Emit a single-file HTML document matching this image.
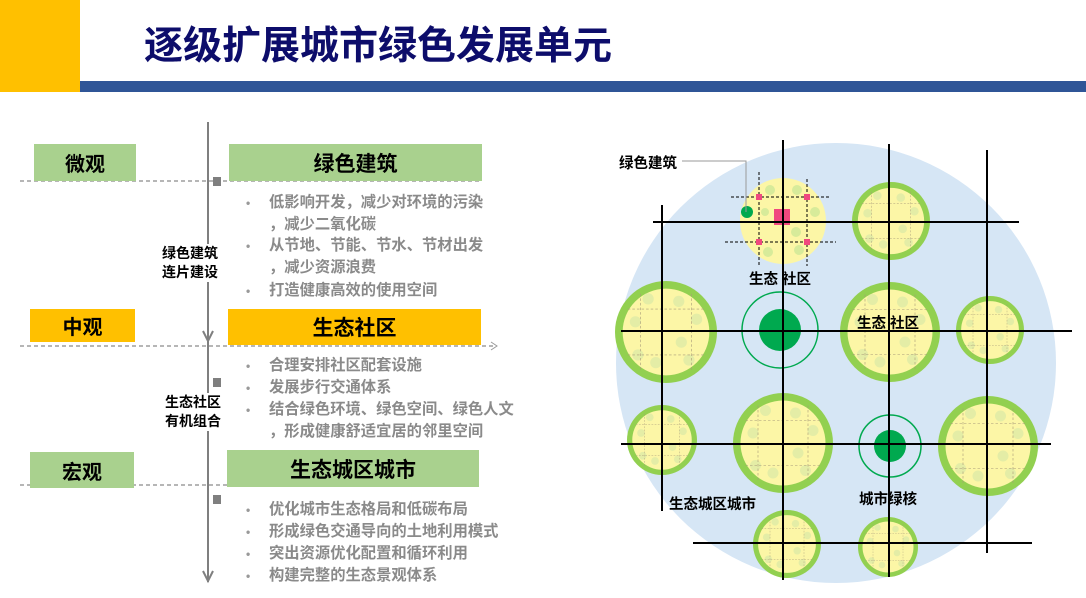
<!DOCTYPE html>
<html><head><meta charset="utf-8"><style>
body{margin:0;width:1086px;height:598px;overflow:hidden;background:#fff;position:relative;font-family:"Liberation Sans","Noto Sans CJK SC",sans-serif}
.a{position:absolute}
.box{position:absolute;display:flex;align-items:center;justify-content:center;font-weight:bold;font-size:20px;color:#000}
.g{background:#a9d18e}.y{background:#ffc000}
.t{position:absolute;font-size:15.3px;color:#8a8a8a;font-weight:bold;white-space:nowrap;line-height:22px}
.t span{position:absolute;left:-23px;color:#999;font-size:12px}
.lab{position:absolute;font-size:14px;font-weight:bold;text-align:center;background:#fff;line-height:19px;width:62px}
</style></head><body>
<div class="a" style="left:0;top:0;width:80px;height:92px;background:#ffc000"></div>
<div class="a" style="left:80px;top:81px;width:1006px;height:11px;background:#2f5597"></div>
<div class="a" style="left:144px;top:15px;font-size:39px;font-weight:bold;color:#0d0d6b">逐级扩展城市绿色发展单元</div>

<svg class="a" style="left:0;top:0" width="600" height="598">
<g stroke="#8a8a8a" stroke-width="1.2" stroke-dasharray="4,3" fill="none">
<line x1="20" y1="181" x2="482" y2="181"/>
<line x1="20" y1="346" x2="496" y2="346"/>
<line x1="20" y1="485" x2="228" y2="485"/>
</g>
<polyline points="491,342 497,346 491,350" fill="none" stroke="#999" stroke-width="1"/>
<line x1="208" y1="122" x2="208" y2="582" stroke="#7f7f7f" stroke-width="2"/>
<polyline points="203,331 208,341 213,331" fill="none" stroke="#7f7f7f" stroke-width="2"/>
<polyline points="203,571 208,581 213,571" fill="none" stroke="#7f7f7f" stroke-width="2"/>
<rect x="213" y="177" width="8" height="9" fill="#7f7f7f"/>
<rect x="213" y="378" width="8" height="9" fill="#7f7f7f"/>
<rect x="213" y="495" width="8" height="9" fill="#7f7f7f"/>
</svg>

<div class="box g" style="left:34px;top:144px;width:102px;height:37px">微观</div>
<div class="box g" style="left:229px;top:144px;width:253px;height:37px;font-size:21px">绿色建筑</div>
<div class="box y" style="left:30px;top:309px;width:105px;height:33px">中观</div>
<div class="box y" style="left:228px;top:309px;width:253px;height:36px;font-size:21px">生态社区</div>
<div class="box g" style="left:30px;top:452px;width:104px;height:36px">宏观</div>
<div class="box g" style="left:227px;top:450px;width:252px;height:37px;font-size:21px">生态城区城市</div>

<div class="lab" style="left:159px;top:244px">绿色建筑<br>连片建设</div>
<div class="lab" style="left:162px;top:393px">生态社区<br>有机组合</div>

<div class="t" style="left:269px;top:192px"><span>•</span>低影响开发，减少对环境的污染</div>
<div class="t" style="left:269px;top:214px">，减少二氧化碳</div>
<div class="t" style="left:269px;top:235px"><span>•</span>从节地、节能、节水、节材出发</div>
<div class="t" style="left:269px;top:257px">，减少资源浪费</div>
<div class="t" style="left:269px;top:280px"><span>•</span>打造健康高效的使用空间</div>
<div class="t" style="left:269px;top:355px"><span>•</span>合理安排社区配套设施</div>
<div class="t" style="left:269px;top:377px"><span>•</span>发展步行交通体系</div>
<div class="t" style="left:269px;top:399px"><span>•</span>结合绿色环境、绿色空间、绿色人文</div>
<div class="t" style="left:269px;top:421px">，形成健康舒适宜居的邻里空间</div>
<div class="t" style="left:269px;top:499px"><span>•</span>优化城市生态格局和低碳布局</div>
<div class="t" style="left:269px;top:521px"><span>•</span>形成绿色交通导向的土地利用模式</div>
<div class="t" style="left:269px;top:543px"><span>•</span>突出资源优化配置和循环利用</div>
<div class="t" style="left:269px;top:565px"><span>•</span>构建完整的生态景观体系</div>

<svg class="a" style="left:0;top:0" width="1086" height="598">
<defs>
<symbol id="c" viewBox="-1 -1 2 2">
<circle r="1" fill="#92d050"/>
<circle r="0.85" fill="#fcf6a6"/>
<g fill="#e4eda6">
<circle cx="-0.35" cy="-0.65" r="0.11"/><circle cx="0.25" cy="-0.6" r="0.11"/>
<circle cx="-0.6" cy="-0.2" r="0.11"/><circle cx="0.6" cy="-0.25" r="0.11"/>
<circle cx="0.3" cy="0.2" r="0.11"/><circle cx="-0.55" cy="0.45" r="0.11"/>
<circle cx="0.45" cy="0.55" r="0.11"/><circle cx="-0.2" cy="0.6" r="0.11"/>
</g>
<g stroke="#a89a7a" stroke-width="0.012" stroke-dasharray="0.05,0.04">
<line x1="-0.5" y1="-0.75" x2="-0.5" y2="0.75"/><line x1="0.5" y1="-0.75" x2="0.5" y2="0.75"/>
<line x1="-0.75" y1="-0.45" x2="0.75" y2="-0.45"/><line x1="-0.75" y1="0.45" x2="0.75" y2="0.45"/>
</g>
</symbol>
</defs>
<circle cx="836" cy="363" r="220" fill="#d6e6f5"/>
<circle cx="783" cy="221" r="43" fill="#fcf6a6"/>
<g fill="#d7eb9a">
<circle cx="770" cy="190" r="5"/><circle cx="797" cy="190" r="5"/><circle cx="765" cy="212" r="4"/><circle cx="815" cy="212" r="5"/>
<circle cx="796" cy="232" r="5"/><circle cx="768" cy="252" r="5"/><circle cx="799" cy="250" r="5"/>
</g>
<g stroke="#000" stroke-width="1" stroke-dasharray="3,2">
<line x1="759" y1="172" x2="759" y2="266"/><line x1="807" y1="179" x2="807" y2="266"/>
<line x1="731" y1="197" x2="830" y2="197"/><line x1="725" y1="242" x2="836" y2="242"/>
</g>
<g fill="#f0487f">
<rect x="756" y="194" width="6" height="6"/><rect x="804" y="194" width="6" height="6"/>
<rect x="756" y="239" width="6" height="6"/><rect x="804" y="239" width="6" height="6"/>
<rect x="774" y="209" width="16" height="16"/>
</g>
<circle cx="747" cy="212" r="6" fill="#00a94f"/>
<polyline points="682,161 746,161 746,212" fill="none" stroke="#999" stroke-width="1"/>

<use href="#c" x="852" y="182" width="78" height="78"/>
<use href="#c" x="615" y="281" width="102" height="102"/>
<use href="#c" x="840" y="282" width="100" height="100"/>
<use href="#c" x="956" y="296" width="68" height="68"/>
<use href="#c" x="627" y="405" width="70" height="70"/>
<use href="#c" x="733" y="393" width="100" height="100"/>
<use href="#c" x="938" y="396" width="100" height="100"/>
<use href="#c" x="753" y="510" width="68" height="68"/>
<use href="#c" x="858" y="517" width="60" height="60"/>

<circle cx="780" cy="330" r="38" fill="none" stroke="#00a94f" stroke-width="1.5"/>
<circle cx="780" cy="330" r="21" fill="#00a94f"/>
<circle cx="890" cy="446" r="31" fill="none" stroke="#00a94f" stroke-width="1.5"/>
<circle cx="890" cy="446" r="16" fill="#00a94f"/>

<g stroke="#000" stroke-width="2">
<line x1="653" y1="222" x2="1019" y2="222"/>
<line x1="621" y1="331" x2="1072" y2="331"/>
<line x1="621" y1="444" x2="1051" y2="444"/>
<line x1="693" y1="543" x2="1032" y2="543"/>
<line x1="662" y1="205" x2="662" y2="511"/>
<line x1="783" y1="140" x2="783" y2="580"/>
<line x1="889" y1="144" x2="889" y2="577"/>
<line x1="987" y1="150" x2="987" y2="553"/>
</g>
<g font-family="Liberation Sans,Noto Sans CJK SC,sans-serif" font-size="14.5" font-weight="bold" fill="#000">
<text x="619" y="168">绿色建筑</text>
<text x="749" y="284">生态 社区</text>
<text x="857" y="328">生态 社区</text>
<text x="669" y="509">生态城区城市</text>
<text x="859" y="504">城市绿核</text>
</g>
</svg>
</body></html>
